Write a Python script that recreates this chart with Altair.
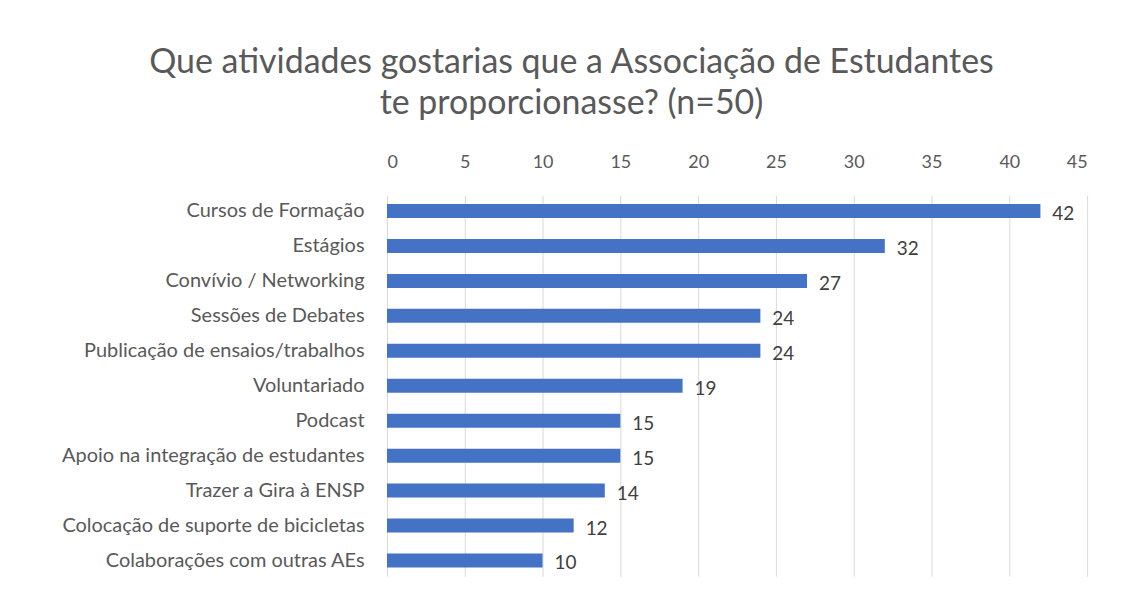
import altair as alt
import pandas as pd

categories = [
    "Cursos de Formação",
    "Estágios",
    "Convívio / Networking",
    "Sessões de Debates",
    "Publicação de ensaios/trabalhos",
    "Voluntariado",
    "Podcast",
    "Apoio na integração de estudantes",
    "Trazer a Gira à ENSP",
    "Colocação de suporte de bicicletas",
    "Colaborações com outras AEs",
]
values = [42, 32, 27, 24, 24, 19, 15, 15, 14, 12, 10]
x_ticks = [0, 5, 10, 15, 20, 25, 30, 35, 40, 45]

df = pd.DataFrame({"atividade": categories, "n": values})

FONT = "Lato"
GREY = "#595959"

x = alt.X("n:Q", scale=alt.Scale(domain=[0, 45], nice=False),
          axis=alt.Axis(orient="top", values=x_ticks, title=None, domain=False, ticks=False,
                        labelPadding=24, labelFontSize=18, labelColor=GREY, labelFont=FONT,
                        gridColor="#d9d9d9", gridWidth=1))
y = alt.Y("atividade:N", sort=categories,
          scale=alt.Scale(paddingInner=0.6, paddingOuter=0.25),
          axis=alt.Axis(title=None, domain=False, ticks=False, labelPadding=23,
                        labelFontSize=20, labelColor=GREY, labelFont=FONT, labelLimit=400))

bars = alt.Chart(df).mark_bar(color="#4472C4").encode(x=x, y=y)
labels = alt.Chart(df).mark_text(align="left", baseline="middle", dx=12, dy=3,
                                 fontSize=19, font=FONT, color="#404040").encode(
    x="n:Q", y=alt.Y("atividade:N", sort=categories), text="n:Q")

chart = alt.layer(bars, labels).properties(
    width=702, height=382,
    title=alt.TitleParams(
        text=["Que atividades gostarias que a Associação de Estudantes",
              "te proporcionasse? (n=50)"],
        fontSize=34, font=FONT, fontWeight="normal", color=GREY,
        lineHeight=42, anchor="middle", dx=-166, offset=32),
    autosize=alt.AutoSizeParams(type="none"),
    padding={"left": 380, "top": 187, "right": 30, "bottom": 10},
).configure_view(stroke=None)

chart.save("out.html", embed_options={"renderer": "svg", "actions": False})
